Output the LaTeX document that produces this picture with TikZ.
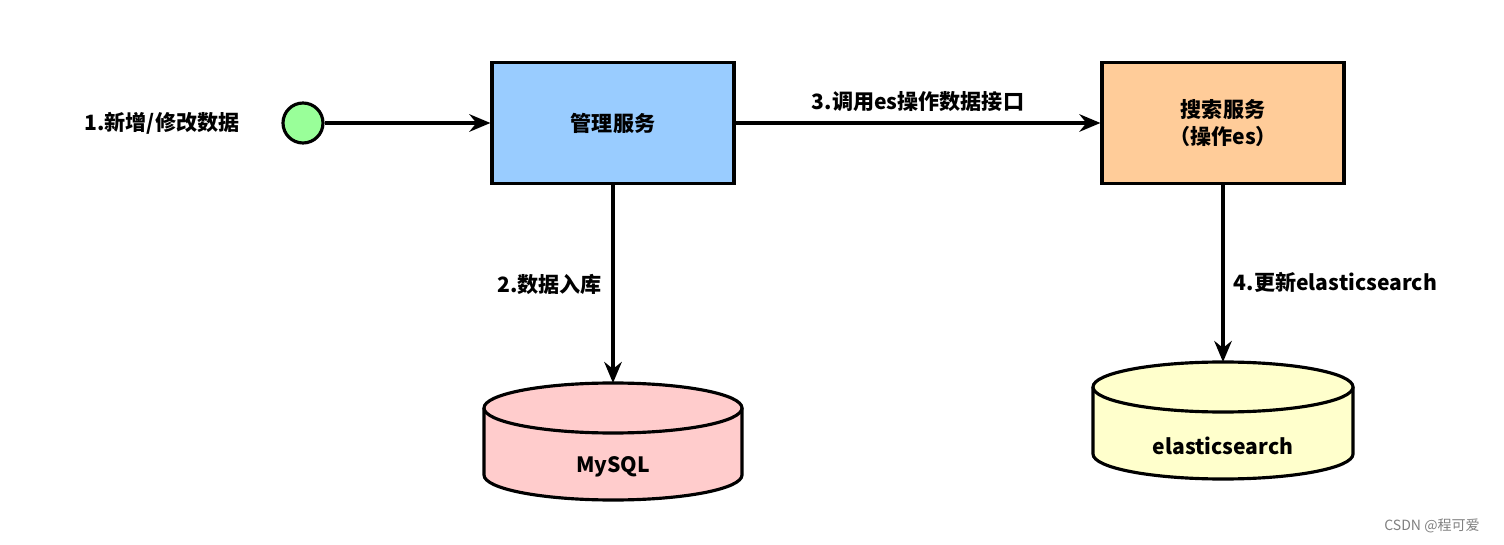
\documentclass[tikz,border=0pt]{standalone}
\usepackage{fontspec}
\setmainfont{Noto Sans CJK SC}
\usetikzlibrary{arrows.meta,positioning}
\definecolor{boxblue}{HTML}{99CCFF}
\definecolor{boxorange}{HTML}{FFCC99}
\definecolor{dbred}{HTML}{FFCCCC}
\definecolor{dbyellow}{HTML}{FFFFCC}
\definecolor{startgreen}{HTML}{99FF99}
\tikzset{
	lbl/.style={font=\fontsize{12}{15}\selectfont\bfseries, align=center},
	svc/.style={draw, line width=1.8pt, minimum width=4.84cm, minimum height=2.42cm, lbl},
	flow/.style={line width=1.8pt, -{Stealth[length=12pt,width=10pt,inset=4pt]}},
	dbline/.style={line width=1.8pt},
}
\newcommand{\dbcyl}[6]{% name, cx, top y, width, height, colour
	\fill[#6, dbline] (#2-#4/2,#3) -- (#2-#4/2,#3-#5) arc[start angle=180,end angle=360,x radius=#4/2,y radius=0.5] -- (#2+#4/2,#3) -- cycle;
	\draw[dbline] (#2-#4/2,#3) -- (#2-#4/2,#3-#5) arc[start angle=180,end angle=360,x radius=#4/2,y radius=0.5] -- (#2+#4/2,#3);
	\draw[dbline, fill=#6] (#2,#3) ellipse[x radius=#4/2, y radius=0.5];
	\coordinate (#1 top) at (#2,#3+0.5);
}
\begin{document}
\begin{tikzpicture}
\useasboundingbox (0,0) rectangle (30.08,10.88);

% upper row
\node[lbl] (input) at (3.24,8.42) {1.新增/修改数据};
\node[circle, draw, line width=1.8pt, fill=startgreen, minimum size=0.8cm, inner sep=0pt] (start) at (6.06,8.42) {};
\node[svc, fill=boxblue] (manage) at (12.26,8.42) {管理服务};
\node[svc, fill=boxorange] (search) at (24.46,8.42) {搜索服务\\（操作es）};

% databases
\dbcyl{mysql}{12.26}{2.72}{5.16}{1.34}{dbred}
\node[lbl] (mysqltxt) at (12.26,1.54) {MySQL};
\dbcyl{es}{24.46}{3.14}{5.2}{1.34}{dbyellow}
\node[lbl] (estxt) at (24.46,1.97) {elasticsearch};

% connectors
\draw[flow] (start) -- (manage);
\draw[flow] (manage) -- node[lbl, above=2pt] {3.调用es操作数据接口} (search);
\draw[flow] (manage.south) -- node[lbl, left=2pt, pos=0.5] {2.数据入库} (mysql top);
\draw[flow] (search.south) -- node[lbl, right=2pt, pos=0.55] {4.更新elasticsearch} (es top);

\node[font=\fontsize{8}{10}\selectfont, text=gray] (mark) at (28.64,0.36) {CSDN @程可爱};
\end{tikzpicture}
\end{document}
